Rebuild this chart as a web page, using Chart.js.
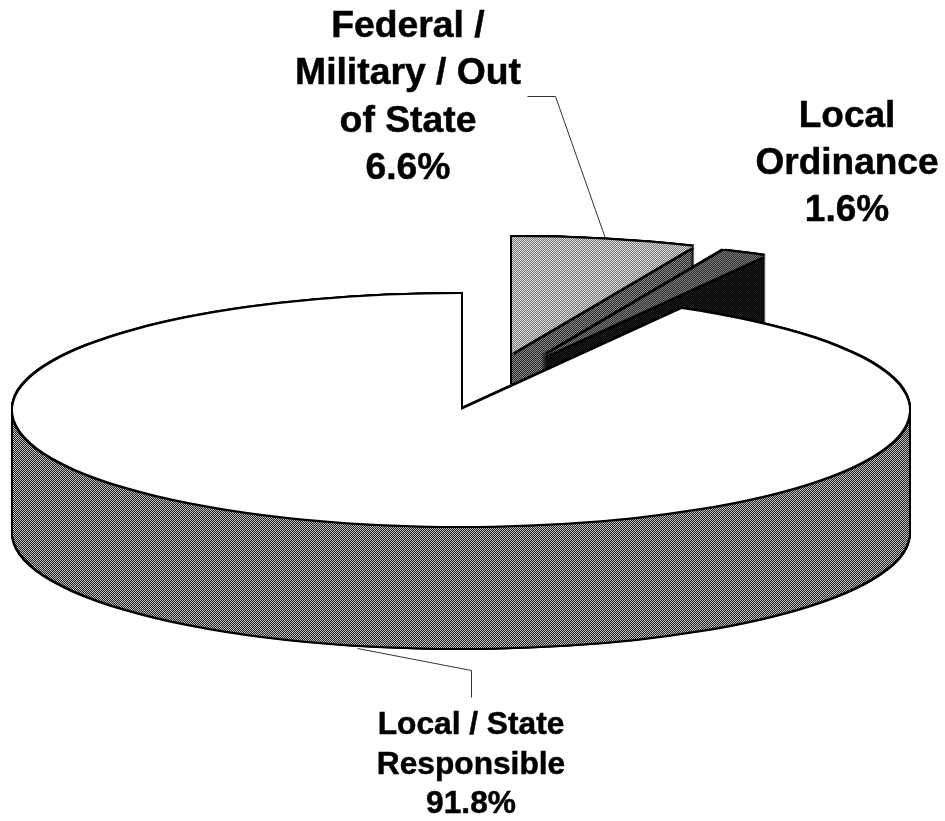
<!DOCTYPE html>
<html>
<head>
<meta charset="utf-8">
<title>Pie</title>
<script src="https://cdn.jsdelivr.net/npm/chart.js@4"></script>
<style>
  html, body { margin: 0; background: #fff; }
  canvas { display: block; }
</style>
</head>
<body>
<canvas id="pie" width="945" height="821"></canvas>
<script>
    // ── data ──
    const categories = ['Federal / Military / Out of State', 'Local Ordinance', 'Local / State Responsible'];
    const shares = [6.6, 1.6, 91.8];
    const labelLines = [
      ['Federal /', 'Military / Out', 'of State'],
      ['Local', 'Ordinance'],
      ['Local / State', 'Responsible']
    ];

    // ── look of the fake 3D pie ──
    const pieCx = 461, pieCy = 410, pieRx = 448, pieRy = 116, pieDepth = 122, edge = 2;
    const explode = [[51, -57], [82, -53], [0, 0]];
    const labelBoxes = [
      { x: 408, y: 37, step: 47.3, size: 37.3 },
      { x: 847, y: 127, step: 47, size: 37 },
      { x: 471, y: 734, step: 39.5, size: 31.7 }
    ];
    const leaders = [
      [[527, 96], [555, 96], [605, 238]],
      [[357, 648], [471, 670], [471, 697]]
    ];

    // scanned halftone look: 1px checker, anchored to the page
    function dither(a, b) {
      const c = document.createElement('canvas');
      c.width = c.height = 2;
      const g = c.getContext('2d');
      g.fillStyle = a; g.fillRect(0, 0, 2, 2);
      g.fillStyle = b; g.fillRect(0, 0, 1, 1); g.fillRect(1, 1, 1, 1);
      return g.createPattern(c, 'repeat');
    }
    const topColors = [dither('#7c7c7c', '#d6d6d6'), dither('#333333', '#777777'), '#ffffff'];
    const wallColors = [dither('#2a2a2a', '#888888'), dither('#000000', '#222222'), dither('#262626', '#bcbcbc')];

    const pie3d = {
      id: 'pie3d',
      beforeDatasetDraw() { return false; }, // the arcs get drawn below, layer by layer
      afterDatasetsDraw(chart) {
        const ctx = chart.ctx;
        const arcs = chart.getDatasetMeta(0).data;
        const k = pieRy / pieRx;
        ctx.imageSmoothingEnabled = false;

        function layer(arc, i, fill, dx, dy) {
          ctx.save();
          ctx.translate(pieCx + explode[i][0] + dx, pieCy + explode[i][1] + dy);
          ctx.scale(1, k);
          ctx.translate(-arc.x, -arc.y);
          if (fill instanceof CanvasPattern) fill.setTransform(ctx.getTransform().inverse());
          const base = arc.options;
          arc.options = Object.create(base);
          arc.options.backgroundColor = fill;
          arc.draw(ctx);
          arc.options = base;
          ctx.restore();
        }

        arcs.forEach((arc, i) => {
          // black silhouette of the extruded slice
          for (let d = -edge; d <= pieDepth + edge; d += 1) {
            layer(arc, i, '#000', -edge, d);
            layer(arc, i, '#000', edge, d);
          }
          // wall
          for (let d = pieDepth; d >= 0; d -= 1) layer(arc, i, wallColors[i], 0, d);
          // top face with its outline
          [[-edge, -edge], [edge, -edge], [-edge, edge], [edge, edge]].forEach(o => layer(arc, i, '#000', o[0], o[1]));
          layer(arc, i, topColors[i], 0, 0);
        });

        // leader lines
        ctx.save();
        ctx.strokeStyle = '#333';
        ctx.lineWidth = 1;
        leaders.forEach(pts => {
          ctx.beginPath();
          pts.forEach((p, n) => n ? ctx.lineTo(p[0] + 0.5, p[1] + 0.5) : ctx.moveTo(p[0] + 0.5, p[1] + 0.5));
          ctx.stroke();
        });
        ctx.restore();

        // labels, with a hair of stroke since the scan runs heavy
        ctx.save();
        ctx.fillStyle = '#000';
        ctx.strokeStyle = '#000';
        ctx.lineWidth = 0.5;
        ctx.textAlign = 'center';
        ctx.textBaseline = 'alphabetic';
        labelBoxes.forEach((b, i) => {
          ctx.font = `bold ${b.size}px "Liberation Sans"`;
          labelLines[i].concat(shares[i].toFixed(1) + '%').forEach((t, n) => {
            ctx.fillText(t, b.x, b.y + n * b.step);
            ctx.strokeText(t, b.x, b.y + n * b.step);
          });
        });
        ctx.restore();
      }
    };

    new Chart(document.getElementById('pie'), {
      type: 'pie',
      data: {
        labels: categories,
        datasets: [{ data: shares, backgroundColor: topColors, borderWidth: 0, radius: pieRx }]
      },
      options: {
        responsive: false,
        animation: false,
        events: [],
        rotation: 0,
        plugins: { legend: { display: false }, tooltip: { enabled: false } }
      },
      plugins: [pie3d]
    });
</script>
</body>
</html>
